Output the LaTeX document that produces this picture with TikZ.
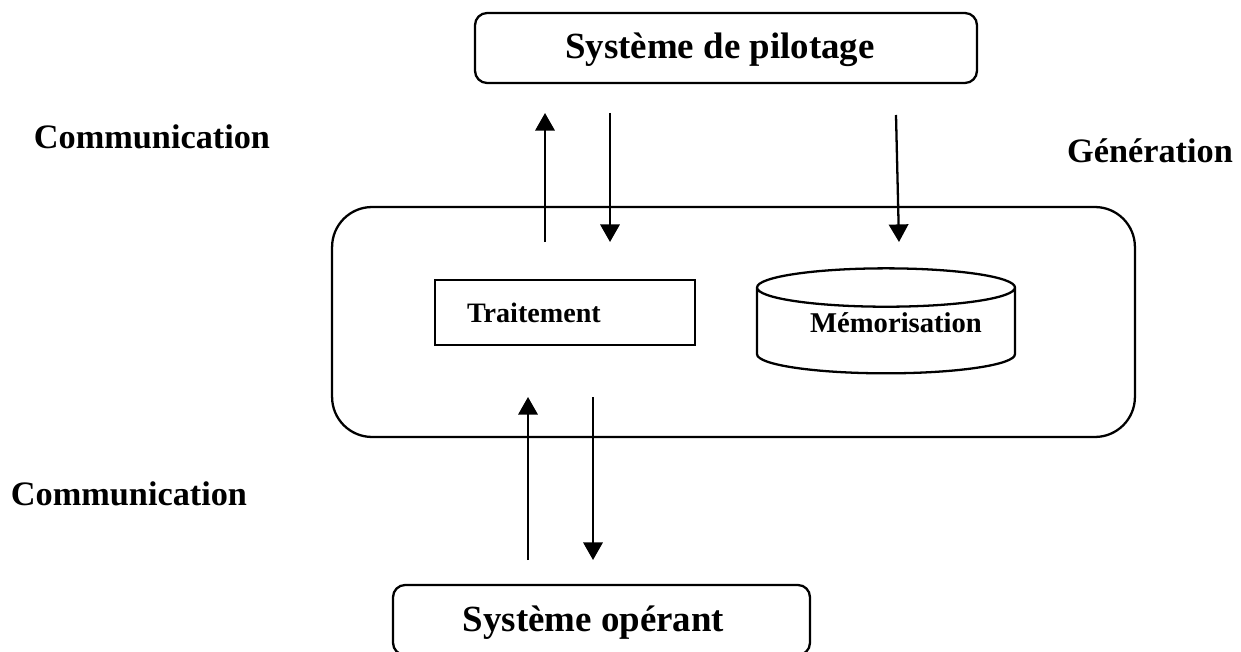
\documentclass[tikz,border=0pt]{standalone}
\usepackage{fontspec}
\setmainfont{Liberation Serif}
\usetikzlibrary{arrows.meta,shapes.geometric,positioning}

\begin{document}
\begin{tikzpicture}[x=0.02cm, y=-0.02cm,
    sysbox/.style={draw, line width=1.3pt, rounded corners=0.24cm, inner sep=0pt, outer sep=0pt},
    bigbox/.style={draw, line width=1.3pt, rounded corners=0.8cm, inner sep=0pt, outer sep=0pt},
    proc/.style={draw, line width=1.3pt, inner sep=0pt, outer sep=0pt, font=\fontsize{16}{19}\selectfont\bfseries},
    store/.style={draw, line width=1.3pt, cylinder, shape border rotate=90, aspect=0.2, inner sep=0pt, outer sep=0pt, font=\fontsize{16.3}{19}\selectfont\bfseries},
    big/.style={font=\fontsize{21}{25}\selectfont\bfseries, inner sep=0pt},
    lbl/.style={font=\fontsize{19.5}{23}\selectfont\bfseries, inner sep=0pt},
    arr/.style={-{Triangle[length=10pt,width=11pt]}, line width=1.3pt}
]
\useasboundingbox (0,0) rectangle (1241,652);

% boites
\node[sysbox, minimum width=10.04cm, minimum height=1.4cm] (pilot) at (726,48) {};
\node[big] (pilottxt) at (720,50) {Système de pilotage};
\node[bigbox, minimum width=16.06cm, minimum height=4.6cm] (sys) at (733.5,322) {};
\node[proc, minimum width=5.2cm, minimum height=1.3cm, text width=3.92cm, inner xsep=0.64cm, align=left] (trait) at (565,312.5) {Traitement};
\node[store, minimum width=5.16cm, minimum height=2.1cm] (memo) at (886,331) {\hspace*{0.4cm}\raisebox{0.32cm}{Mémorisation}};
\node[sysbox, minimum width=8.34cm, minimum height=1.4cm] (oper) at (601.5,620) {};
\node[big] (opertxt) at (593.5,623) {Système opérant};

% etiquettes
\node[lbl] (com1) at (152,137) {Communication};
\node[lbl] (gen) at (1150,151) {Génération};
\node[lbl] (com2) at (129,494) {Communication};

% fleches
\coordinate (u1a) at (545,242); \coordinate (u1b) at (545,113);
\coordinate (d1a) at (610,113); \coordinate (d1b) at (610,242);
\coordinate (d2a) at (896,115); \coordinate (d2b) at (899,242);
\coordinate (u2a) at (528,560); \coordinate (u2b) at (528,397);
\coordinate (d3a) at (593,397); \coordinate (d3b) at (593,560);
\draw[arr] (u1a) -- (u1b);
\draw[arr] (d1a) -- (d1b);
\draw[arr] (d2a) -- (d2b);
\draw[arr] (u2a) -- (u2b);
\draw[arr] (d3a) -- (d3b);
\end{tikzpicture}
\end{document}
